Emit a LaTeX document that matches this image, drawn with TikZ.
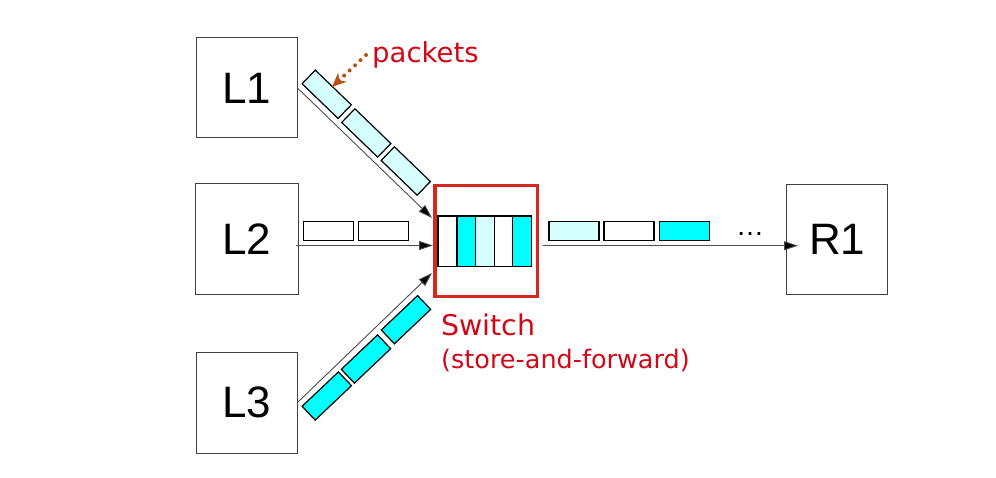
\documentclass[tikz,border=0pt]{standalone}
\usepackage{fontspec}
\setmainfont{Liberation Sans}
\newfontfamily\comicfont{DejaVu Sans}
\usetikzlibrary{arrows.meta}
\definecolor{lcyan}{RGB}{214,255,255}
\definecolor{fcyan}{RGB}{0,255,255}
\definecolor{tred}{RGB}{208,8,24}
\definecolor{sred}{RGB}{212,40,30}
\definecolor{brn}{RGB}{181,80,22}
\begin{document}
\begin{tikzpicture}[x=1pt,y=-1pt,
 host/.style={draw=black!75,line width=1pt,inner sep=0,font=\fontsize{44}{44}\selectfont},
 pkt/.style={draw=black,line width=1.2pt,minimum width=50pt,minimum height=19pt,inner sep=0},
 cell/.style={draw=black,line width=1.2pt,minimum width=18.7pt,minimum height=50.7pt,inner sep=0},
 link/.style={draw=black!70,line width=0.9pt,-{Triangle[length=14pt,width=9pt,fill=black]}},
 redtext/.style={text=tred,inner sep=0,anchor=base west},
]
\useasboundingbox (0,0) rectangle (996,478);

% hosts
\node[host,minimum width=101pt,minimum height=100pt] (L1) at (246.5,88) {L1};
\node[host,minimum width=103pt,minimum height=111pt] (L2) at (246.5,239.5) {L2};
\node[host,minimum width=101pt,minimum height=101pt] (L3) at (246.5,402.5) {L3};
\node[host,minimum width=101pt,minimum height=110pt] (R1) at (837.3,239.8) {R1};

% switch
\node[draw=sred,line width=3.2pt,minimum width=102.3pt,minimum height=111.4pt,inner sep=0] (sw) at (486.2,241) {};
\node[cell,fill=white] (q1) at (447.3,241.3) {};
\node[cell,fill=fcyan] (q2) at (466.3,241.3) {};
\node[cell,fill=lcyan] (q3) at (485,241.3) {};
\node[cell,fill=white] (q4) at (503.5,241.3) {};
\node[cell,fill=fcyan] (q5) at (522,241.3) {};

% arrow end points
\coordinate (in1) at (432,218);
\coordinate (in2) at (433,245.5);
\coordinate (in3) at (432,273);
\coordinate (out0) at (543,245.7);
\coordinate (out1) at (798,245.7);

% links
\draw[link] (L1.east) -- (in1);
\draw[link] ([xshift=-3pt]L2.east |- in2) -- (in2);
\draw[link] (L3.east) -- (in3);
\draw[link] (out0) -- (out1);

% packets on L1
\node[pkt,fill=lcyan,rotate=-44] (a1) at (326.7,94.3) {};
\node[pkt,fill=lcyan,rotate=-44] (a2) at (366.3,133) {};
\node[pkt,fill=lcyan,rotate=-44] (a3) at (405.8,171) {};
% packets on L2
\node[pkt,fill=white] (b1) at (328.3,231.3) {};
\node[pkt,fill=white] (b2) at (383.3,231.3) {};
% packets on L3
\node[pkt,fill=fcyan,rotate=43.5] (c1) at (326.8,396) {};
\node[pkt,fill=fcyan,rotate=43.5] (c2) at (366,359) {};
\node[pkt,fill=fcyan,rotate=43.5] (c3) at (406,319.7) {};
% packets to R1
\node[pkt,fill=lcyan] (d1) at (574,231.3) {};
\node[pkt,fill=white] (d2) at (629,231.3) {};
\node[pkt,fill=fcyan] (d3) at (684.5,231.3) {};
\node[inner sep=0,anchor=base,font=\fontsize{28}{28}\selectfont] (dots) at (750,236) {…};

% labels
\node[redtext,font=\comicfont\fontsize{27.5}{27.5}\selectfont] (lbl) at (372,63) {packets};
\node[redtext,font=\comicfont\fontsize{28.5}{28.5}\selectfont] (swl) at (441,336) {Switch};
\node[redtext,font=\comicfont\fontsize{25.5}{25.5}\selectfont] (swl2) at (441,368) {(store-and-forward)};

% dotted pointer
\coordinate (ptr0) at (366,55);
\coordinate (ptr1) at (332,87);
\draw[brn,line width=4pt,line cap=round,dash pattern=on 0pt off 7.5pt,
  -{Stealth[length=14pt,width=12pt,inset=4pt,fill=brn]}] (ptr0) -- (ptr1);
\end{tikzpicture}
\end{document}
